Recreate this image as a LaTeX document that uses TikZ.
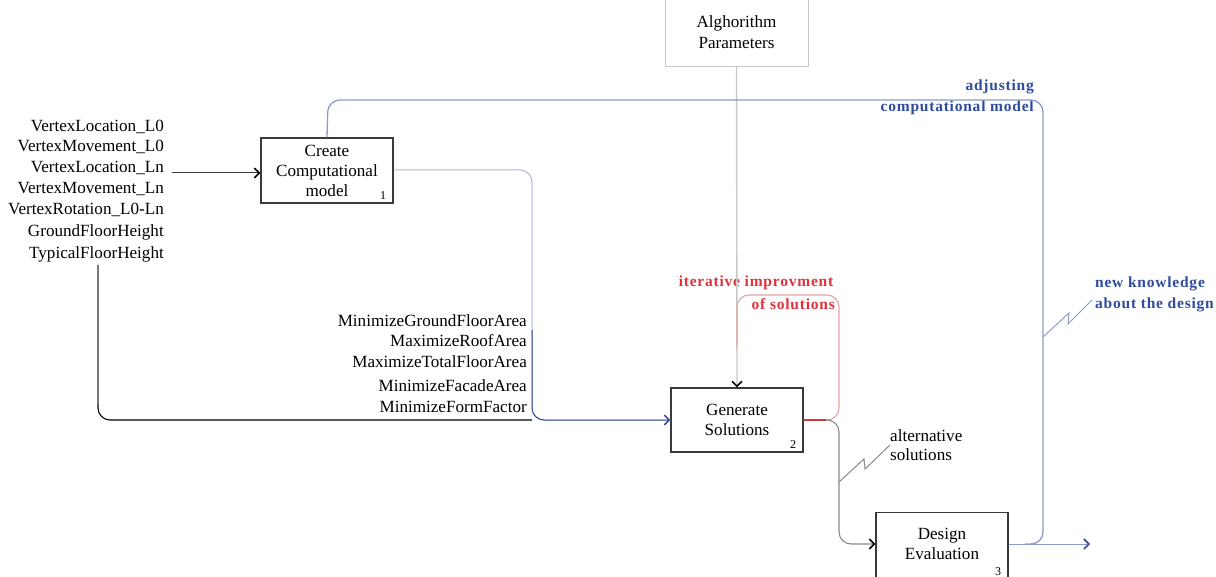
\documentclass[tikz,border=0pt]{standalone}
\usepackage{fontspec}
\setmainfont{Liberation Serif}
\newfontfamily\spacedfont[LetterSpace=5]{Liberation Serif}
\usetikzlibrary{arrows.meta,calc}

\definecolor{boxline}{HTML}{3A3A3A}
\definecolor{paramline}{HTML}{C8C8C8}
\definecolor{flowblue}{HTML}{8C9BCB}
\definecolor{paleblue}{HTML}{AEB8DA}
\definecolor{deepblue}{HTML}{3B4C95}
\definecolor{notetext}{HTML}{2E4B9E}
\definecolor{loopred}{HTML}{E3A3A3}
\definecolor{loopstrong}{HTML}{D23A3A}
\definecolor{notered}{HTML}{E0323A}
\definecolor{altgrey}{HTML}{8A8A8A}
\definecolor{feedgrey}{HTML}{7A7A7A}

\tikzset{
  txt/.style={font=\fontsize{17.1}{20}\selectfont, inner sep=0pt},
  note/.style={font=\spacedfont\bfseries\fontsize{15.5}{19}\selectfont, inner sep=0pt},
  idx/.style={font=\fontsize{12}{14}\selectfont, inner sep=0pt},
  funcbox/.style={draw=boxline, line width=1.1pt, fill=white, minimum width=132pt,
    align=center, font=\fontsize{17.1}{20}\selectfont, inner sep=0pt},
  arrowend/.style={-{Straight Barb[length=5pt,width=10pt,line width=1.6pt,color=#1]}},
  arrowend/.default=black,
  roundpath/.style={rounded corners=12pt},
}

\begin{document}
\begin{tikzpicture}[x=1pt,y=-1pt]
\useasboundingbox (0,0) rectangle (1216,577);

% ---------- activity boxes ----------
\node[funcbox, draw=paramline, line width=0.9pt, minimum width=143pt, minimum height=68pt]
  (params) at (736.5,32) {Alghorithm\\[1pt]Parameters};
\node[funcbox, minimum height=65pt] (create) at (327,170.5) {Create\\Computational\\model};
\node[funcbox, minimum height=64pt] (generate) at (737,420) {Generate\\Solutions};
\node[funcbox, minimum height=80pt, anchor=north] (design) at (942,512) {};
\node[txt, align=center] (designtxt) at (942,543.5) {Design\\Evaluation};

\node[idx] (n1) at (383,196) {1};
\node[idx] (n2) at (793,445) {2};
\node[idx] (n3) at (998,572) {3};

% ---------- input parameters ----------
\foreach \t/\y [count=\i] in {VertexLocation\_L0/127, VertexMovement\_L0/147,
    VertexLocation\_Ln/168, VertexMovement\_Ln/189, VertexRotation\_L0-Ln/210,
    GroundFloorHeight/232, TypicalFloorHeight/254}
  \node[txt, anchor=east] (in\i) at (164,\y) {\t};

% ---------- objectives ----------
\foreach \t/\y [count=\i] in {MinimizeGroundFloorArea/321, MaximizeRoofArea/341,
    MaximizeTotalFloorArea/362, MinimizeFacadeArea/386, MinimizeFormFactor/407}
  \node[txt, anchor=east] (obj\i) at (527,\y) {\t};

% ---------- annotations ----------
\node[note, text=notetext, anchor=east] (adj1) at (1034,87) {adjusting};
\node[note, text=notetext, anchor=east] (adj2) at (1034,108) {computational model};
\node[note, text=notetext, anchor=west] (know1) at (1095,284) {new knowledge};
\node[note, text=notetext, anchor=west] (know2) at (1095,305) {about the design};
\node[note, text=notered] (iter1) at (756,283) {iterative improvment};
\node[note, text=notered, anchor=east] (iter2) at (835,304) {of solutions};
\node[txt, anchor=west] (alt1) at (890,436) {alternative};
\node[txt, anchor=west] (alt2) at (890,455) {solutions};

% ---------- connector anchors ----------
\coordinate (inarrow) at (172,173);
\coordinate (heightfeed) at (98,265);
\coordinate (objfeed) at (532,420);
\coordinate (splitpt) at (839,420);
\coordinate (designin) at ($(design.north west)+(0,32)$);
\coordinate (designout) at ($(design.north east)+(0,32)$);
\coordinate (outflow) at (1090,544);
\coordinate (loopend) at (737,345);
\coordinate (altmark) at (839,482);
\coordinate (knowmark) at (1043,337);

% ---------- connectors ----------
% parameters feed into generation
\draw[paramline, line width=1.4pt, arrowend] (params.south) -- (generate.north);

% geometric inputs into the model
\draw[boxline, line width=1pt, arrowend] (inarrow) -- (inarrow -| create.west);

% model output down to generation
\draw[paleblue, line width=1pt, roundpath] (create.east |- 0,170) -- (532,170) -- (objfeed) -- (generate.west);
\draw[deepblue, line width=1pt, roundpath, arrowend=deepblue] (532,330) -- (objfeed) -- (generate.west);

% floor heights routed to generation
\draw[black, line width=1.1pt, roundpath] (heightfeed) -- (98,420) -- (objfeed);
\draw[feedgrey, line width=1.2pt] (heightfeed) -- (98,404);

% iterative improvement loop
\draw[loopred, line width=1.1pt, roundpath] (generate.east) -- (splitpt) -- (839,295) -- (737,295) -- (loopend);
\draw[loopstrong, line width=1.2pt] (generate.east) -- (826,420);

% alternative solutions to evaluation
\draw[altgrey, line width=1.1pt, roundpath, arrowend] (826,420) -- (splitpt) -- (839,544) -- (designin);

% evaluation output and feedback to the model
\draw[flowblue, line width=1pt, arrowend=deepblue] (designout) -- (outflow);
\draw[flowblue, line width=1.3pt, roundpath] (1025,544) -- (1043,544) -- (1043,100) -- (328,100) -- (create.north);

% tunnel marks
\draw[altgrey, line width=1pt] (altmark) -- (864,459) -- (865,469) -- (890,445);
\draw[flowblue, line width=1pt] (knowmark) -- (1069,313) -- (1068,324) -- (1092,300);

\end{tikzpicture}
\end{document}
